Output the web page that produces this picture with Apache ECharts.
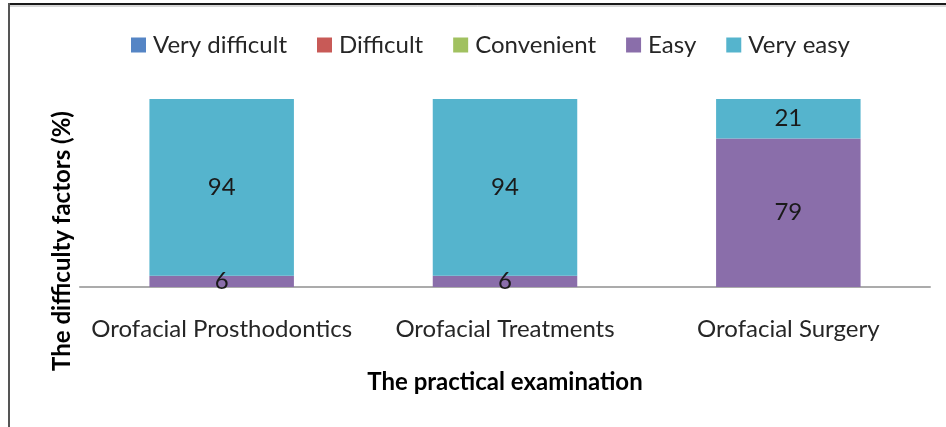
<!DOCTYPE html>
<html>
<head>
<meta charset="utf-8">
<script src="https://cdn.jsdelivr.net/npm/echarts@6/dist/echarts.min.js"></script>
<style>
html,body{margin:0;padding:0;background:#fff;}
#chart{width:946px;height:427px;}
</style>
</head>
<body>
<div id="chart"></div>
<script>
var categories = ['Orofacial Prosthodontics', 'Orofacial Treatments', 'Orofacial Surgery'];
var seriesNames = ['Very difficult', 'Difficult', 'Convenient', 'Easy', 'Very easy'];
var veryDifficult = [0, 0, 0];
var difficult = [0, 0, 0];
var convenient = [0, 0, 0];
var easy = [6, 6, 79];
var veryEasy = [94, 94, 21];
var yTitle = 'The difficulty factors (%)';
var xTitle = 'The practical examination';

var colors = ['#5585C5', '#C85A57', '#A1C160', '#8A6EAA', '#55B4CD'];
var values = [veryDifficult, difficult, convenient, easy, veryEasy];
var FONT = 'Lato, "Open Sans", sans-serif';

var chart = echarts.init(document.getElementById('chart'));
chart.setOption({
  animation: false,
  textStyle: {fontFamily: FONT},
  color: colors,
  legend: {
    top: 28,
    left: 126,
    itemWidth: 15,
    itemHeight: 15,
    itemGap: 30,
    icon: 'rect',
    textStyle: {fontSize: 24, color: '#262626', fontFamily: FONT, padding: [0, 0, 0, 2]},
    data: seriesNames
  },
  grid: {left: 80, right: 16, top: 99, bottom: 140},
  xAxis: {
    type: 'category',
    data: categories,
    axisLine: {lineStyle: {color: '#ababab', width: 2}},
    axisTick: {show: false},
    axisLabel: {fontSize: 24, color: '#262626', margin: 30, fontFamily: FONT, interval: 0, hideOverlap: false},
    name: xTitle,
    nameLocation: 'middle',
    nameGap: 83,
    nameTextStyle: {fontSize: 24, fontWeight: 'bold', color: '#000', fontFamily: FONT}
  },
  yAxis: {
    type: 'value',
    min: 0,
    max: 100,
    axisLine: {show: false},
    axisTick: {show: false},
    axisLabel: {show: false},
    splitLine: {show: false}
  },
  graphic: [
    {type: 'line', shape: {x1: 9, y1: 4, x2: 946, y2: 4}, style: {stroke: '#1a1a1a', lineWidth: 2}},
    {type: 'line', shape: {x1: 9, y1: 6, x2: 946, y2: 6}, style: {stroke: '#b0b0b0', lineWidth: 1}},
    {type: 'line', shape: {x1: 9, y1: 3, x2: 9, y2: 427}, style: {stroke: '#555', lineWidth: 2}},
    {type: 'text', x: 62, y: 241, rotation: Math.PI / 2,
      style: {text: yTitle, fontSize: 24, fontWeight: 'bold', fill: '#000', fontFamily: FONT,
        align: 'center', verticalAlign: 'middle'}}
  ],
  series: seriesNames.map(function (n, i) {
    return {
      name: n,
      type: 'bar',
      stack: 'total',
      barCategoryGap: '49%',
      data: values[i],
      label: {
        show: true,
        position: 'inside',
        fontSize: 24,
        color: '#1a1a1a',
        fontFamily: FONT,
        formatter: function (p) { return p.value === 0 ? '' : String(p.value); }
      }
    };
  })
});
</script>
</body>
</html>
